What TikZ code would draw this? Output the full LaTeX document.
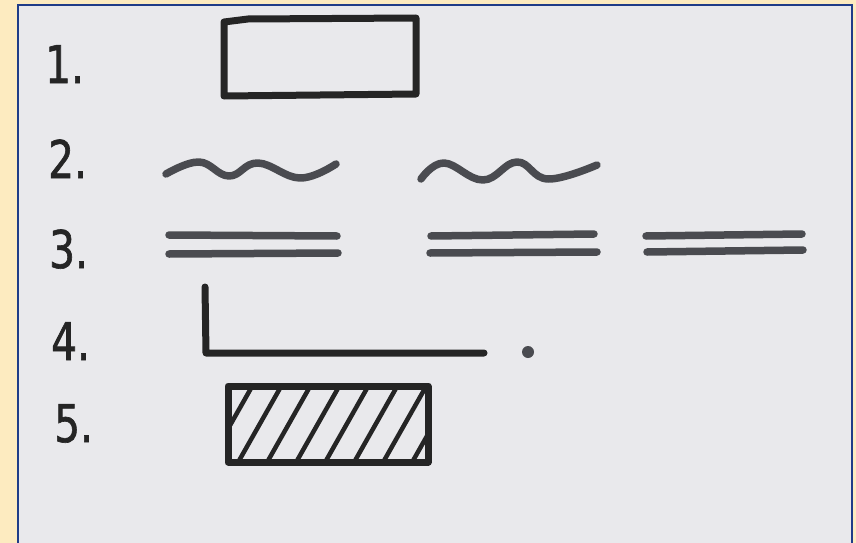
\documentclass[tikz,border=0pt]{standalone}
\usepackage{fontspec}
\setmainfont{DejaVu Sans}
\newfontfamily\handfont[FakeStretch=0.78,FakeBold=1.2]{DejaVu Sans}
\definecolor{frameyellow}{HTML}{FDEBC0}
\definecolor{framenavy}{HTML}{1F3C88}
\definecolor{paper}{HTML}{E9E9EC}
\definecolor{ink}{HTML}{252525}
\definecolor{greyink}{HTML}{4A4B50}
\tikzset{
  inkline/.style={draw=ink, line width=7pt, line cap=round, line join=round},
  greyline/.style={draw=greyink, line width=7.5pt, line cap=round, line join=round},
  hatchline/.style={draw=ink, line width=4.5pt},
  numlabel/.style={font=\handfont\fontsize{52}{52}\selectfont, text=ink, anchor=base west, inner sep=0pt}
}
\begin{document}
\begin{tikzpicture}[x=1pt,y=-1pt]
\useasboundingbox (0,0) rectangle (856,543);
% frame
\fill[frameyellow] (0,0) rectangle (856,543);
\fill[paper] (18,5) rectangle (852,543);
\draw[framenavy, line width=2.8pt] (18,543) -- (18,5) -- (852,5) -- (852,543);

% labels
\node[numlabel] (n1) at (45,83) {1.};
\node[numlabel] (n2) at (48,178) {2.};
\node[numlabel] (n3) at (49,268) {3.};
\node[numlabel] (n4) at (51,360) {4.};
\node[numlabel] (n5) at (54,442) {5.};

% 1. rectangle
\draw[inkline] (224,22) -- (248,19) -- (416,18) -- (416,94) -- (224,96) -- cycle;

% 2. waves
\draw[greyline] plot[smooth, tension=0.7] coordinates {(166,174) (199,162) (229,176) (258,163) (300,178) (336,164)};
\draw[greyline] plot[smooth, tension=0.7] coordinates {(421,179) (444,163) (483,180) (517,162) (548,179) (597,165)};

% 3. double lines
\draw[greyline] (169,235) -- (337,236);
\draw[greyline] (169,254) -- (338,253);
\draw[greyline] (431,236) -- (594,234);
\draw[greyline] (430,253) -- (597,252);
\draw[greyline] (646,236) -- (802,234);
\draw[greyline] (647,252) -- (803,250);

% 4. L-shape and dot
\coordinate (ltop) at (205,287);
\coordinate (lcorner) at (206,353);
\coordinate (lend) at (484,353);
\draw[inkline] (ltop) -- (lcorner) -- (lend);
\fill[greyink] (528,352) circle (6);

% 5. hatched box
\begin{scope}
\clip (228,386) rectangle (428,462);
\foreach \i in {-1,...,7} {
  \draw[hatchline] ({207+\i*29},466) -- ({254+\i*29},383);
}
\end{scope}
\draw[inkline] (228,386) rectangle (428,462);
\end{tikzpicture}
\end{document}
